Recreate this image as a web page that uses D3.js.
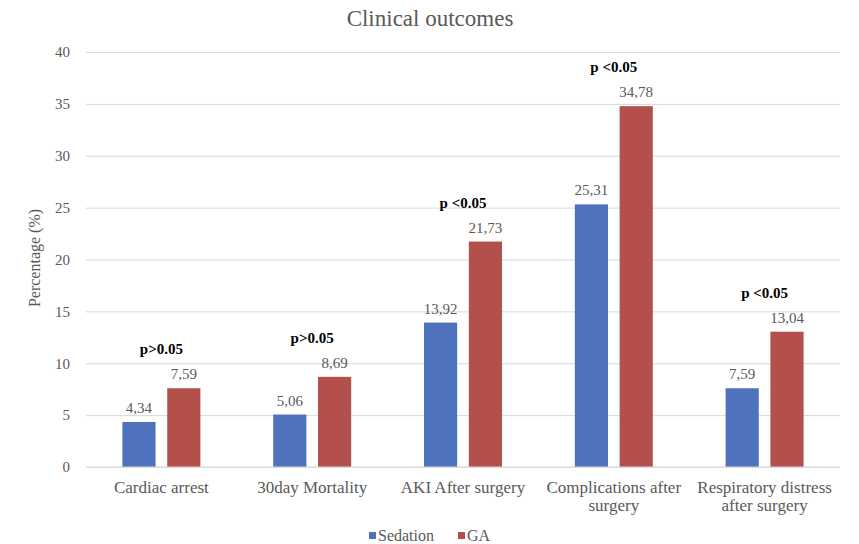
<!DOCTYPE html>
<html>
<head>
<meta charset="utf-8">
<script src="https://cdn.jsdelivr.net/npm/d3@7"></script>
<style>
  body { margin: 0; background: #fff; }
  svg, svg text, svg tspan { font-family: "Liberation Serif", "DejaVu Serif", serif !important; }
</style>
</head>
<body>
<svg id="chart"></svg>
<script>
// chart data
const categories = ["Cardiac arrest", "30day Mortality", "AKI After surgery", "Complications after surgery", "Respiratory distress after surgery"];
const categoryLines = [["Cardiac arrest"], ["30day Mortality"], ["AKI After surgery"], ["Complications after", "surgery"], ["Respiratory distress", "after surgery"]];
const seriesNames = ["Sedation", "GA"];
const sedation = [4.34, 5.06, 13.92, 25.31, 7.59];
const ga = [7.59, 8.69, 21.73, 34.78, 13.04];
const pLabels = ["p>0.05", "p>0.05", "p <0.05", "p <0.05", "p <0.05"];
const yTicks = [0, 5, 10, 15, 20, 25, 30, 35, 40];

const colors = { "Sedation": "#4f72bd", "GA": "#b3504c" };
const serif = "'Liberation Serif', 'DejaVu Serif', serif";

const width = 859, height = 544;
const margin = { top: 52, right: 19, bottom: 77, left: 86 };

const svg = d3.select("#chart")
    .attr("width", width)
    .attr("height", height)
    .style("font-family", serif);

const x0 = d3.scaleBand()
    .domain(categories)
    .range([margin.left, width - margin.right])
    .paddingInner(0)
    .paddingOuter(0);

const x1 = d3.scaleBand()
    .domain(seriesNames)
    .range([0, 78])
    .paddingInner(0.26);

const y = d3.scaleLinear()
    .domain([0, 40])
    .range([height - margin.bottom, margin.top]);

// title
svg.append("text")
    .attr("x", 430)
    .attr("y", 26)
    .attr("text-anchor", "middle")
    .style("font-size", "23px")
    .style("fill", "#595959")
    .text("Clinical outcomes");

// grid + y tick labels
const yAxis = svg.append("g")
    .attr("transform", `translate(${margin.left},0)`)
    .call(d3.axisLeft(y).tickValues(yTicks).tickSize(-(width - margin.left - margin.right)).tickPadding(16));
yAxis.attr("font-family", null);
yAxis.select(".domain").remove();
yAxis.selectAll(".tick line").style("stroke", "#d9d9d9");
yAxis.selectAll(".tick text")
    .style("font-size", "15px")
    .style("fill", "#595959")
    .style("font-family", serif);

// y axis title
svg.append("text")
    .attr("transform", "translate(40,258) rotate(-90)")
    .attr("text-anchor", "middle")
    .style("font-size", "16px")
    .style("fill", "#595959")
    .text("Percentage (%)");

const rows = categories.map((c, i) => ({ cat: c, i: i, vals: [sedation[i], ga[i]] }));

const groups = svg.append("g").selectAll("g")
    .data(rows)
    .enter().append("g")
    .attr("transform", d => `translate(${x0(d.cat) + (x0.bandwidth() - 78) / 2},0)`);

groups.selectAll("rect")
    .data(d => seriesNames.map((s, k) => ({ s: s, v: d.vals[k] })))
    .enter().append("rect")
    .attr("x", d => x1(d.s))
    .attr("y", d => y(d.v))
    .attr("width", x1.bandwidth())
    .attr("height", d => y(0) - y(d.v))
    .attr("fill", d => colors[d.s]);

// value labels
groups.selectAll("text.val")
    .data(d => seriesNames.map((s, k) => ({ s: s, v: d.vals[k] })))
    .enter().append("text")
    .attr("class", "val")
    .attr("x", d => x1(d.s) + x1.bandwidth() / 2)
    .attr("y", d => y(d.v) - 9)
    .attr("text-anchor", "middle")
    .style("font-size", "15px")
    .style("fill", "#595959")
    .text(d => d.v.toFixed(2).replace(".", ","));

// p-value annotations
groups.append("text")
    .attr("x", 39)
    .attr("y", d => y(d3.max(d.vals)) - 34)
    .attr("text-anchor", "middle")
    .style("font-size", "15px")
    .style("font-weight", "bold")
    .style("fill", "#000")
    .text(d => pLabels[d.i]);

// baseline
svg.append("line")
    .attr("x1", margin.left)
    .attr("x2", width - margin.right)
    .attr("y1", y(0))
    .attr("y2", y(0))
    .style("stroke", "#d9d9d9");

// category labels
const catText = svg.append("g").selectAll("text")
    .data(rows)
    .enter().append("text")
    .attr("x", d => x0(d.cat) + x0.bandwidth() / 2)
    .attr("y", y(0) + 26)
    .attr("text-anchor", "middle")
    .style("font-size", "17px")
    .style("fill", "#595959");
catText.selectAll("tspan")
    .data(d => categoryLines[d.i])
    .enter().append("tspan")
    .attr("x", function() { return this.parentNode.getAttribute("x"); })
    .attr("dy", (d, k) => k === 0 ? 0 : 18)
    .text(d => d);

// legend
const legend = svg.append("g").attr("transform", "translate(369,536)");
const legendX = [0, 89];
seriesNames.forEach((s, k) => {
    legend.append("rect")
        .attr("x", legendX[k])
        .attr("y", -4)
        .attr("width", 7)
        .attr("height", 7)
        .attr("fill", colors[s]);
    legend.append("text")
        .attr("x", legendX[k] + 9)
        .attr("y", 5)
        .style("font-size", "16px")
        .style("fill", "#595959")
        .text(s);
});
</script>
</body>
</html>
